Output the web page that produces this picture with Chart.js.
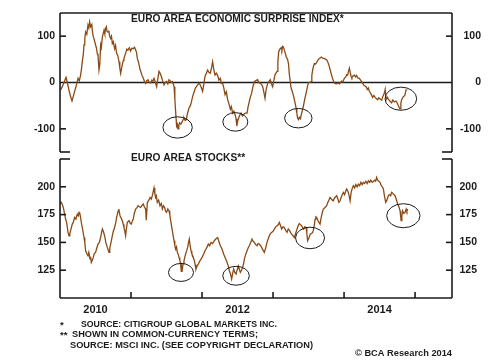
<!DOCTYPE html>
<html>
<head>
<meta charset="utf-8">
<script src="https://cdn.jsdelivr.net/npm/chart.js@4"></script>
<style>
  html, body { margin: 0; padding: 0; background: #fff; }
  #wrap { position: relative; width: 499px; height: 361px; }
  #wrap canvas { position: absolute; left: 0; top: 0; }
</style>
</head>
<body>
<div id="wrap">
  <canvas id="surpChart" width="499" height="361"></canvas>
  <canvas id="stockChart" width="499" height="361"></canvas>
</div>
<script>
// ---- data ----
const X_MIN = 2010, X_MAX = 2015.52;

const yearLabelAt = [2010.5, 2012.5, 2014.5];
const yearLabels = ['2010', '2012', '2014'];
const yearTicks = [2011, 2012, 2013, 2014, 2015];

const surpTicks = [-100, 0, 100];
const stockTicks = [125, 150, 175, 200];

const survYears = [
  2010.008, 2010.032, 2010.061, 2010.085, 2010.103, 2010.124, 2010.145, 2010.169, 2010.187, 2010.208,
  2010.220, 2010.237, 2010.254, 2010.272, 2010.290, 2010.303, 2010.314, 2010.328, 2010.338, 2010.349,
  2010.361, 2010.377, 2010.394, 2010.406, 2010.417, 2010.431, 2010.448, 2010.458, 2010.469, 2010.483,
  2010.501, 2010.514, 2010.525, 2010.535, 2010.549, 2010.561, 2010.572, 2010.582, 2010.596, 2010.620,
  2010.631, 2010.641, 2010.652, 2010.663, 2010.676, 2010.687, 2010.699, 2010.713, 2010.725, 2010.737,
  2010.751, 2010.769, 2010.782, 2010.797, 2010.814, 2010.831, 2010.842, 2010.854, 2010.866, 2010.877,
  2010.892, 2010.901, 2010.913, 2010.924, 2010.941, 2010.958, 2010.976, 2010.994, 2011.011, 2011.032,
  2011.049, 2011.065, 2011.077, 2011.089, 2011.103, 2011.113, 2011.128, 2011.145, 2011.159, 2011.173,
  2011.190, 2011.206, 2011.223, 2011.239, 2011.258, 2011.276, 2011.293, 2011.307, 2011.324, 2011.342,
  2011.361, 2011.377, 2011.394, 2011.410, 2011.427, 2011.445, 2011.465, 2011.483, 2011.501, 2011.518,
  2011.535, 2011.554, 2011.568, 2011.582, 2011.593, 2011.606, 2011.617, 2011.628, 2011.642, 2011.652,
  2011.662, 2011.673, 2011.685, 2011.701, 2011.723, 2011.737, 2011.746, 2011.762, 2011.779, 2011.793,
  2011.817, 2011.835, 2011.849, 2011.868, 2011.885, 2011.906, 2011.934, 2011.948, 2011.962, 2011.983,
  2012.008, 2012.025, 2012.042, 2012.061, 2012.079, 2012.096, 2012.117, 2012.134, 2012.149, 2012.166,
  2012.183, 2012.201, 2012.220, 2012.237, 2012.258, 2012.272, 2012.290, 2012.307, 2012.324, 2012.342,
  2012.361, 2012.377, 2012.399, 2012.413, 2012.431, 2012.448, 2012.465, 2012.479, 2012.490, 2012.501,
  2012.515, 2012.532, 2012.549, 2012.568, 2012.586, 2012.610, 2012.634, 2012.649, 2012.666, 2012.683,
  2012.699, 2012.715, 2012.737, 2012.758, 2012.783, 2012.800, 2012.821, 2012.838, 2012.854, 2012.870,
  2012.887, 2012.903, 2012.924, 2012.941, 2012.962, 2012.976, 2012.994, 2013.011, 2013.028, 2013.042,
  2013.056, 2013.068, 2013.079, 2013.096, 2013.113, 2013.124, 2013.135, 2013.145, 2013.159, 2013.173,
  2013.187, 2013.206, 2013.218, 2013.230, 2013.244, 2013.254, 2013.272, 2013.290, 2013.307, 2013.324,
  2013.335, 2013.346, 2013.359, 2013.370, 2013.385, 2013.403, 2013.417, 2013.431, 2013.448, 2013.465,
  2013.483, 2013.497, 2013.514, 2013.535, 2013.546, 2013.558, 2013.570, 2013.582, 2013.600, 2013.620,
  2013.638, 2013.662, 2013.680, 2013.701, 2013.723, 2013.741, 2013.755, 2013.769, 2013.786, 2013.803,
  2013.817, 2013.835, 2013.854, 2013.870, 2013.896, 2013.913, 2013.934, 2013.948, 2013.966, 2013.983,
  2014.004, 2014.023, 2014.037, 2014.051, 2014.063, 2014.075, 2014.086, 2014.099, 2014.110, 2014.124,
  2014.145, 2014.162, 2014.177, 2014.194, 2014.215, 2014.237, 2014.262, 2014.279, 2014.310, 2014.328,
  2014.342, 2014.356, 2014.377, 2014.403, 2014.420, 2014.441, 2014.459, 2014.473, 2014.490, 2014.511,
  2014.530, 2014.546, 2014.568, 2014.579, 2014.592, 2014.610, 2014.624, 2014.645, 2014.670, 2014.687,
  2014.708, 2014.732, 2014.751, 2014.765, 2014.779, 2014.789, 2014.800, 2014.811, 2014.828, 2014.839,
  2014.856, 2014.873, 2014.882
];
const survValues = [
  -16, -9, 2, 11, 0, -15, -28, -40, -30, -18,
  -12, -2, 9, 4, 16, 30, 45, 60, 81, 95,
  109, 104, 124, 118, 131, 120, 125, 108, 99, 92,
  81, 74, 62, 59, 27, 40, 81, 75, 98, 113,
  105, 116, 120, 110, 109, 112, 100, 95, 100, 84,
  88, 73, 80, 63, 58, 45, 32, 20, 30, 38,
  48, 52, 58, 63, 72, 70, 75, 68, 74, 73,
  76, 70, 65, 52, 45, 38, 28, 20, 14, 9,
  2, -2, 4, 6, 0, -1, 5, 3, 9, 1,
  -9, 8, 24, 20, 13, 4, -5, 0, 2, -3,
  6, 3, 0, 2, -2, -9, -35, -62, -94, -90,
  -100, -92, -87, -90, -84, -79, -76, -82, -80, -68,
  -55, -50, -43, -30, -22, -12, -6, -3, -1.5, -8,
  -19, -4, 13, 20, 27, 22, 20, 32, 45, 28,
  16, 20, 15, 5, 9, -2, -1.5, -12, -26, -20,
  -37, -45, -58, -52, -66, -62, -69, -78, -94, -84,
  -77, -70, -66, -72, -69, -66, -66, -52, -41, -30,
  -23, -10, 2, 4, 6, 0, -2, -4, -9, -20,
  -34, -15, -2, 2, 6, -2, -9, 4, 17, 20,
  24, 45, 66, 72, 75, 70, 78, 77, 70, 63,
  55, 49, 40, 17, 0, -12, -20, -30, -42, -55,
  -66, -77, -80, -75, -78, -66, -58, -48, -35, -23,
  -10, -1, 0, 2, 15, 27, 35, 41, 40, 45,
  50, 53, 55, 52, 52, 50, 49, 45, 38, 28,
  20, 10, 2, -2, -3, -1, -3, 0, 3, 1,
  9, 12, 17, 16, 25, 31, 22, 13, 10, 14,
  16, 12, 15, 10, 9, 4, -2, -6, -9, -15,
  -12, -19, -24, -32, -28, -33, -35, -37, -33, -36,
  -38, -30, -23, -15, -37, -32, -36, -40, -44, -38,
  -42, -40, -45, -50, -55, -57, -45, -37, -32, -30,
  -28, -16, -15
];

const stockYears = [
  2010.000, 2010.018, 2010.032, 2010.046, 2010.065, 2010.079, 2010.093, 2010.113, 2010.127, 2010.138,
  2010.149, 2010.159, 2010.173, 2010.187, 2010.206, 2010.223, 2010.244, 2010.258, 2010.268, 2010.279,
  2010.290, 2010.300, 2010.314, 2010.338, 2010.349, 2010.361, 2010.377, 2010.394, 2010.406, 2010.423,
  2010.431, 2010.441, 2010.455, 2010.469, 2010.483, 2010.501, 2010.518, 2010.535, 2010.554, 2010.572,
  2010.582, 2010.596, 2010.610, 2010.628, 2010.645, 2010.666, 2010.680, 2010.690, 2010.701, 2010.713,
  2010.725, 2010.737, 2010.751, 2010.769, 2010.786, 2010.797, 2010.807, 2010.817, 2010.828, 2010.845,
  2010.861, 2010.877, 2010.892, 2010.901, 2010.913, 2010.924, 2010.934, 2010.948, 2010.972, 2010.990,
  2011.004, 2011.018, 2011.032, 2011.046, 2011.065, 2011.082, 2011.099, 2011.117, 2011.135, 2011.152,
  2011.173, 2011.187, 2011.206, 2011.215, 2011.230, 2011.251, 2011.268, 2011.286, 2011.300, 2011.314,
  2011.324, 2011.335, 2011.346, 2011.356, 2011.370, 2011.389, 2011.408, 2011.427, 2011.441, 2011.458,
  2011.473, 2011.487, 2011.501, 2011.518, 2011.535, 2011.546, 2011.558, 2011.570, 2011.582, 2011.596,
  2011.606, 2011.617, 2011.628, 2011.641, 2011.652, 2011.666, 2011.676, 2011.687, 2011.699, 2011.708,
  2011.715, 2011.723, 2011.734, 2011.746, 2011.758, 2011.769, 2011.786, 2011.797, 2011.810, 2011.821,
  2011.832, 2011.845, 2011.856, 2011.868, 2011.880, 2011.892, 2011.903, 2011.915, 2011.931, 2011.948,
  2011.966, 2011.986, 2012.004, 2012.023, 2012.039, 2012.056, 2012.072, 2012.089, 2012.107, 2012.127,
  2012.149, 2012.173, 2012.194, 2012.220, 2012.237, 2012.258, 2012.275, 2012.290, 2012.307, 2012.324,
  2012.342, 2012.361, 2012.373, 2012.385, 2012.399, 2012.417, 2012.431, 2012.445, 2012.462, 2012.479,
  2012.494, 2012.511, 2012.525, 2012.539, 2012.556, 2012.572, 2012.585, 2012.596, 2012.614, 2012.634,
  2012.649, 2012.666, 2012.685, 2012.704, 2012.720, 2012.737, 2012.755, 2012.775, 2012.790, 2012.807,
  2012.824, 2012.839, 2012.859, 2012.877, 2012.896, 2012.915, 2012.931, 2012.948, 2012.965, 2012.980,
  2013.000, 2013.018, 2013.037, 2013.056, 2013.075, 2013.089, 2013.106, 2013.121, 2013.141, 2013.159,
  2013.177, 2013.197, 2013.215, 2013.230, 2013.246, 2013.262, 2013.282, 2013.300, 2013.318, 2013.338,
  2013.354, 2013.370, 2013.387, 2013.403, 2013.417, 2013.431, 2013.448, 2013.465, 2013.476, 2013.487,
  2013.504, 2013.525, 2013.542, 2013.558, 2013.568, 2013.582, 2013.592, 2013.603, 2013.614, 2013.631,
  2013.645, 2013.662, 2013.677, 2013.694, 2013.708, 2013.725, 2013.741, 2013.755, 2013.772, 2013.786,
  2013.803, 2013.821, 2013.835, 2013.849, 2013.866, 2013.882, 2013.896, 2013.913, 2013.927, 2013.944,
  2013.962, 2013.976, 2013.990, 2014.007, 2014.023, 2014.037, 2014.054, 2014.068, 2014.085, 2014.100,
  2014.117, 2014.131, 2014.149, 2014.166, 2014.185, 2014.201, 2014.220, 2014.237, 2014.255, 2014.272,
  2014.289, 2014.307, 2014.325, 2014.342, 2014.361, 2014.377, 2014.396, 2014.413, 2014.430, 2014.445,
  2014.459, 2014.473, 2014.490, 2014.507, 2014.523, 2014.539, 2014.554, 2014.568, 2014.586, 2014.603,
  2014.624, 2014.641, 2014.656, 2014.670, 2014.687, 2014.704, 2014.718, 2014.734, 2014.755, 2014.772,
  2014.789, 2014.796, 2014.803, 2014.814, 2014.825, 2014.842, 2014.859, 2014.875, 2014.885, 2014.896
];
const stockValues = [
  185, 186, 184, 181.4, 175.5, 171, 168, 159, 156, 158,
  160.5, 163, 166.5, 168, 172.4, 171, 175.5, 174, 177, 176,
  172.4, 168, 163.4, 154.4, 150, 142.5, 140, 138, 141, 135,
  137, 132, 134, 136.5, 140, 141, 145, 148.5, 150, 154.4,
  158, 162, 160, 156, 150, 145.5, 143, 141, 145, 148.5,
  152, 156, 160, 163.4, 168, 172.4, 175, 178, 180, 174,
  172, 169.5, 166, 163.4, 160, 156, 162, 168, 169.5, 167,
  166.5, 169, 171, 176, 180, 181, 183, 182, 181.4, 183,
  184.5, 182, 180, 170, 186, 188, 190.4, 189, 192, 196,
  199, 194, 190.4, 192, 186, 188, 183, 185, 180, 183,
  181.4, 178, 177, 180, 178.4, 175, 169.5, 165, 160.5, 155,
  151.5, 147, 144, 146, 141, 139, 136.5, 134, 130.5, 124,
  128, 126, 131, 133.5, 137, 139.5, 143, 145.5, 150, 153,
  147, 142.5, 140, 138, 136, 133.5, 130, 126, 129, 130.5,
  133, 135, 137, 139.5, 142, 144, 146, 148.5, 147, 150,
  149, 151.5, 153, 154.4, 151, 147, 145, 142.5, 139, 136.5,
  134, 130.5, 128, 124.5, 122, 117, 122, 126, 123, 121.5,
  125, 129, 126, 123, 125, 127.5, 131, 135, 139, 142.5,
  145, 147, 150, 153, 151, 150, 148, 147, 149, 148.5,
  147, 145.5, 143, 141, 145, 150, 153, 156, 158, 159,
  160, 162, 164, 165, 166, 168, 165, 162, 164, 163.4,
  161, 159, 162, 161, 159, 157.5, 156, 154.4, 158, 162,
  165, 167, 166, 165, 163, 162, 164, 163.4, 158, 151.5,
  154, 157.5, 158, 159, 161, 166, 171, 173, 172.4, 170,
  168, 166.5, 172, 177, 180, 181, 182, 183, 186, 188,
  190.4, 189, 188, 187.4, 190, 191, 192, 189, 186, 187.4,
  191, 193, 195, 193, 196, 198, 196, 193, 187.4, 195,
  199, 201, 199, 202, 200, 202.4, 201, 204, 202, 204,
  203, 205, 203, 205.4, 204, 206, 204, 204.8, 206, 205,
  208.4, 206, 205, 204, 201, 200, 198, 192, 186, 188,
  192, 193, 192, 195, 194, 193, 192, 189, 184.5, 182,
  178.4, 174, 169.5, 174, 178.4, 176, 177, 180, 178, 180
];

// hand-drawn rings: [centre year, centre value, half-width (years), half-height (units)]
const surpRings = [
  [2011.656, -97, 0.207, 23],
  [2012.469, -85, 0.176, 20],
  [2013.356, -77, 0.193, 21],
  [2014.800, -35, 0.223, 25]
];
const stockRings = [
  [2011.704, 123, 0.176, 8.1],
  [2012.479, 120, 0.187, 8.5],
  [2013.521, 154, 0.204, 9.7],
  [2014.835, 174, 0.235, 10.8]
];

const surpTitle = 'EURO AREA ECONOMIC SURPRISE INDEX*';
const stockTitle = 'EURO AREA STOCKS**';

// ---- styling ----
const FONT = "Arial, 'Liberation Sans', sans-serif";
const INK = '#1b1b1b';
const LINE = '#8a4a16';
const tickFont = { family: FONT, size: 10.5, weight: 'bold' };

function seg(ctx, x1, y1, x2, y2) {
  ctx.beginPath();
  ctx.moveTo(x1, y1);
  ctx.lineTo(x2, y2);
  ctx.stroke();
}

function drawRings(chart, rings) {
  const { ctx, scales: { x, y } } = chart;
  ctx.save();
  ctx.strokeStyle = INK;
  ctx.lineWidth = 1;
  rings.forEach(r => {
    const cx = x.getPixelForValue(r[0]);
    const cy = y.getPixelForValue(r[1]);
    const rx = Math.abs(x.getPixelForValue(r[0] + r[2]) - cx);
    const ry = Math.abs(y.getPixelForValue(r[1] + r[3]) - cy);
    ctx.beginPath();
    ctx.ellipse(cx, cy, rx, ry, 0, 0, Math.PI * 2);
    ctx.stroke();
  });
  ctx.restore();
}

function text(ctx, str, x, y, size, maxW, align) {
  ctx.font = 'bold ' + size + 'px ' + FONT;
  ctx.textAlign = align || 'left';
  ctx.textBaseline = 'middle';
  ctx.fillStyle = INK;
  if (maxW) ctx.fillText(str, x, y, maxW);
  else ctx.fillText(str, x, y);
}

const surpFrame = {
  id: 'surpFrame',
  beforeDatasetsDraw(chart) {
    const { ctx, chartArea: a, scales: { y } } = chart;
    ctx.save();
    ctx.strokeStyle = INK;
    ctx.lineWidth = 1.4;
    const py = y.getPixelForValue(0);
    seg(ctx, a.left, py, a.right, py);
    ctx.restore();
  },
  afterDatasetsDraw(chart) {
    const { ctx, chartArea: a, scales: { y } } = chart;
    ctx.save();
    ctx.strokeStyle = INK;
    ctx.lineWidth = 1.6;
    seg(ctx, a.left, a.top, a.right, a.top);
    seg(ctx, a.left, a.top, a.left, a.bottom);
    seg(ctx, a.right, a.top, a.right, a.bottom);
    seg(ctx, a.left, a.bottom, a.left + 10, a.bottom);
    seg(ctx, a.right - 10, a.bottom, a.right, a.bottom);
    surpTicks.filter(v => v !== 0).forEach(v => {
      const py = y.getPixelForValue(v);
      seg(ctx, a.left, py, a.left + 6, py);
      seg(ctx, a.right - 6, py, a.right, py);
    });
    ctx.restore();
    drawRings(chart, surpRings);
    ctx.save();
    text(ctx, surpTitle, a.left + 71, a.top + 6, 10.2);
    ctx.restore();
  }
};

const stockFrame = {
  id: 'stockFrame',
  afterDatasetsDraw(chart) {
    const { ctx, chartArea: a, scales: { x, y } } = chart;
    ctx.save();
    ctx.strokeStyle = INK;
    ctx.lineWidth = 1.6;
    seg(ctx, a.left, a.top, a.left, a.bottom);
    seg(ctx, a.right, a.top, a.right, a.bottom);
    seg(ctx, a.left, a.bottom, a.right, a.bottom);
    seg(ctx, a.left, a.top, a.left + 10, a.top);
    seg(ctx, a.right - 10, a.top, a.right, a.top);
    stockTicks.forEach(v => {
      const py = y.getPixelForValue(v);
      seg(ctx, a.left, py, a.left + 6, py);
      seg(ctx, a.right - 6, py, a.right, py);
    });
    yearTicks.forEach(v => {
      const px = x.getPixelForValue(v);
      seg(ctx, px, a.bottom - 6, px, a.bottom);
    });
    ctx.restore();
    drawRings(chart, stockRings);

    ctx.save();
    text(ctx, stockTitle, a.left + 71, a.top - 0.7, 10.2);
    // footnotes
    const L = a.left;
    text(ctx, '*', L, 325, 9.6);
    text(ctx, 'SOURCE: CITIGROUP GLOBAL MARKETS INC.', L + 21, 324.5, 9.6, 196);
    text(ctx, '**', L, 335, 9.6);
    text(ctx, 'SHOWN IN COMMON-CURRENCY TERMS;', L + 12, 334.5, 9.6, 186);
    text(ctx, 'SOURCE: MSCI INC. (SEE COPYRIGHT DECLARATION)', L + 10, 345, 9.6, 243);
    text(ctx, '\u00A9 BCA Research 2014', a.right, 353.5, 9.6, 97, 'right');
    ctx.restore();
  }
};

function yAxis(pos, min, max, ticks, width) {
  return {
    position: pos,
    min, max,
    afterBuildTicks: s => { s.ticks = ticks.map(v => ({ value: v })); },
    afterFit: s => { s.width = width; },
    grid: { display: false, drawTicks: false },
    border: { display: false },
    ticks: {
      padding: 5,
      crossAlign: pos === 'right' ? 'far' : 'near',
      font: tickFont,
      color: INK,
      callback: v => String(v)
    }
  };
}

Chart.defaults.font.family = FONT;

new Chart(document.getElementById('surpChart'), {
  type: 'line',
  data: {
    datasets: [{
      data: survYears.map((x, i) => ({ x, y: survValues[i] })),
      borderColor: LINE,
      borderWidth: 1.3,
      pointRadius: 0,
      tension: 0,
      yAxisID: 'y'
    }]
  },
  options: {
    responsive: false,
    animation: false,
    devicePixelRatio: 1,
    layout: { padding: { top: 13, bottom: 209, left: 0, right: 18 } },
    plugins: { legend: { display: false }, tooltip: { enabled: false } },
    scales: {
      x: { type: 'linear', display: false, min: X_MIN, max: X_MAX },
      y: yAxis('left', -150, 150, surpTicks, 60),
      y2: yAxis('right', -150, 150, surpTicks, 29)
    }
  },
  plugins: [surpFrame]
});

new Chart(document.getElementById('stockChart'), {
  type: 'line',
  data: {
    datasets: [{
      data: stockYears.map((x, i) => ({ x, y: stockValues[i] })),
      borderColor: LINE,
      borderWidth: 1.3,
      pointRadius: 0,
      tension: 0,
      yAxisID: 'y'
    }]
  },
  options: {
    responsive: false,
    animation: false,
    devicePixelRatio: 1,
    layout: { padding: { top: 159, bottom: 0, left: 0, right: 22 } },
    plugins: { legend: { display: false }, tooltip: { enabled: false } },
    scales: {
      x: {
        type: 'linear',
        position: 'bottom',
        min: X_MIN, max: X_MAX,
        afterBuildTicks: s => { s.ticks = yearLabelAt.map(v => ({ value: v })); },
        afterFit: s => { s.height = 63; },
        grid: { display: false, drawTicks: false },
        border: { display: false },
        ticks: {
          padding: 5,
          autoSkip: false,
          maxRotation: 0,
          font: { family: FONT, size: 11, weight: 'bold' },
          color: INK,
          callback: (v, i) => yearLabels[i]
        }
      },
      y: yAxis('left', 100, 225, stockTicks, 60),
      y2: yAxis('right', 100, 225, stockTicks, 25)
    }
  },
  plugins: [stockFrame]
});
</script>
</body>
</html>
